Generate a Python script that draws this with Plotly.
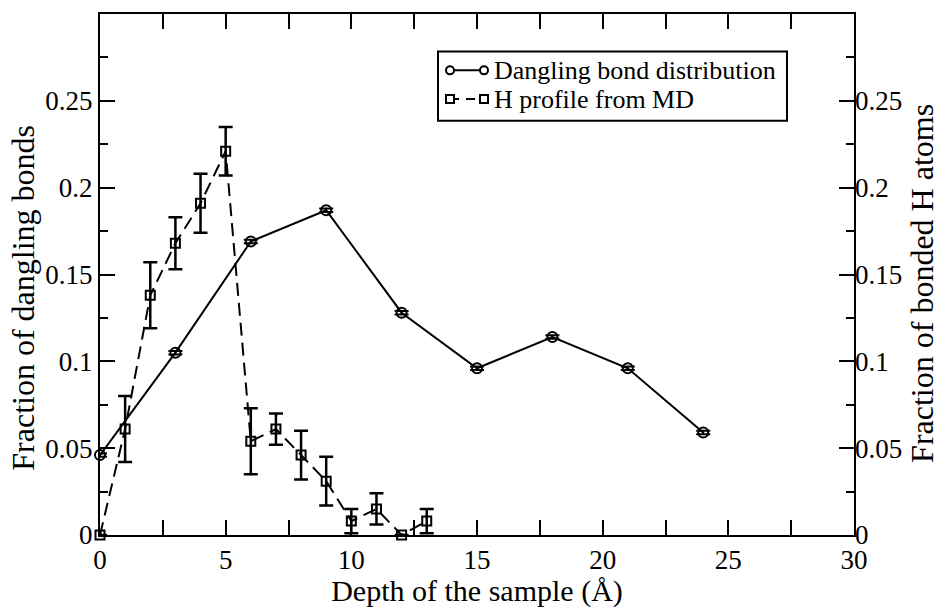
import plotly.graph_objects as go

# Dangling bond distribution vs depth
db_depth = [0, 3, 6, 9, 12, 15, 18, 21, 24]
db_frac = [0.046, 0.105, 0.169, 0.187, 0.128, 0.096, 0.114, 0.096, 0.059]
db_err = [0.001, 0.001, 0.001, 0.001, 0.001, 0.001, 0.001, 0.001, 0.001]

# H profile from MD vs depth
h_depth = [0, 1, 2, 3, 4, 5, 6, 7, 8, 9, 10, 11, 12, 13]
h_frac = [0.0, 0.061, 0.138, 0.168, 0.191, 0.221, 0.054, 0.061, 0.046, 0.031,
          0.008, 0.015, 0.0, 0.008]
h_err = [0.0, 0.019, 0.019, 0.015, 0.017, 0.014, 0.019, 0.009, 0.014, 0.014,
         0.007, 0.009, 0.0, 0.007]

y_ticks = [0, 0.05, 0.1, 0.15, 0.2, 0.25]
y_ticktext = ["0", "0.05", "0.1", "0.15", "0.2", "0.25"]
x_ticks = [0, 5, 10, 15, 20, 25, 30]

FONT = "Liberation Serif, Times New Roman, Times, serif"
fig = go.Figure()

fig.add_trace(go.Scatter(
    x=db_depth, y=db_frac, mode="lines+markers", name="Dangling bond distribution",
    line=dict(color="black", width=2),
    marker=dict(symbol="circle-open", size=10, color="black", line=dict(width=2)),
    error_y=dict(type="data", array=db_err, color="black", thickness=2, width=7),
    cliponaxis=False, showlegend=False,
))
fig.add_trace(go.Scatter(
    x=h_depth, y=h_frac, mode="lines+markers", name="H profile from MD",
    yaxis="y2",
    line=dict(color="black", width=2, dash="13px,7px"),
    marker=dict(symbol="square-open", size=9, color="black", line=dict(width=2)),
    error_y=dict(type="data", array=h_err, color="black", thickness=2.5, width=7),
    cliponaxis=False, showlegend=False,
))

tick_font = dict(family=FONT, size=27, color="black")
x_title_font = dict(family=FONT, size=30, color="black")
y_title_font = dict(family=FONT, size=32, color="black")

fig.update_layout(
    width=943, height=608,
    margin=dict(l=100, r=89, t=14, b=67),
    plot_bgcolor="white", paper_bgcolor="white",
    font=dict(family=FONT, color="black"),
    xaxis=dict(
        range=[0, 30], tickvals=x_ticks, ticks="inside", ticklen=15, tickwidth=2,
        minor=dict(tickvals=[2.5, 7.5, 12.5, 17.5, 22.5, 27.5], ticklen=8,
                   tickwidth=2, ticks="inside", tickcolor="black"),
        showline=True, linewidth=2, linecolor="black", mirror="allticks",
        tickcolor="black", showgrid=False, zeroline=False,
        tickfont=tick_font,
        title=dict(text="Depth of the sample (Å)", font=x_title_font, standoff=0),
    ),
    yaxis=dict(
        range=[0, 0.3], tickvals=y_ticks, ticktext=y_ticktext,
        ticks="inside", ticklen=15, tickwidth=2, tickcolor="black",
        minor=dict(tickvals=[0.025, 0.075, 0.125, 0.175, 0.225, 0.275], ticklen=8,
                   tickwidth=2, ticks="inside", tickcolor="black"),
        showline=True, linewidth=2, linecolor="black", mirror="allticks",
        showgrid=False, zeroline=False, tickfont=tick_font,
    ),
    yaxis2=dict(
        range=[0, 0.3], tickvals=y_ticks, ticktext=y_ticktext,
        overlaying="y", side="right", ticks="", showline=False,
        showgrid=False, zeroline=False, tickfont=tick_font,
    ),
)

# Pixel -> paper coordinate helpers for the plot area
PW, PH = 754.0, 527.0
def px_x(p):
    return (p - 100) / PW
def px_y(p):
    return (541 - p) / PH

# Vertical axis titles
fig.add_annotation(xref="paper", yref="paper", x=px_x(23), y=px_y(301),
                   xanchor="center", yanchor="middle", showarrow=False,
                   textangle=-90, text="Fraction of dangling bonds", font=y_title_font)
fig.add_annotation(xref="paper", yref="paper", x=px_x(922), y=px_y(287),
                   xanchor="center", yanchor="middle", showarrow=False,
                   textangle=-90, text="Fraction of bonded H atoms", font=y_title_font)

# Legend box
fig.add_shape(type="rect", xref="paper", yref="paper",
              x0=px_x(438), x1=px_x(787), y0=px_y(122), y1=px_y(52),
              line=dict(color="black", width=2), fillcolor="white")

legend_rows = [
    ("Dangling bond distribution", 71, "circle", "solid"),
    ("H profile from MD", 100, "square", "dash"),
]
for label, cy, sym, dash in legend_rows:
    fig.add_shape(type="line", xref="paper", yref="paper",
                  x0=px_x(450), x1=px_x(484), y0=px_y(cy), y1=px_y(cy),
                  line=dict(color="black", width=2,
                            dash="solid" if dash == "solid" else "9px,7px"))
    for cx in (450, 484):
        fig.add_shape(type=("circle" if sym == "circle" else "rect"),
                      xref="paper", yref="paper",
                      xsizemode="pixel", ysizemode="pixel",
                      xanchor=px_x(cx), yanchor=px_y(cy),
                      x0=-4, x1=4, y0=-4, y1=4,
                      line=dict(color="black", width=2), fillcolor="white")
    fig.add_annotation(xref="paper", yref="paper", x=px_x(492), y=px_y(cy),
                       xanchor="left", yanchor="middle", showarrow=False,
                       text=label, font=dict(family=FONT, size=26, color="black"))

fig.write_html("out.html")
